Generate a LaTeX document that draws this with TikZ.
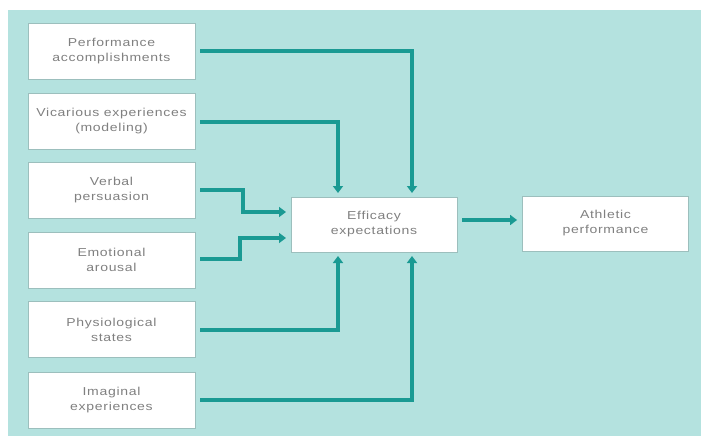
\documentclass[tikz,border=0pt]{standalone}
\usepackage{fontspec}
\setmainfont{Liberation Sans}[FakeStretch=1.22, LetterSpace=6]
\usetikzlibrary{arrows.meta}
\definecolor{bgteal}{HTML}{B4E2DF}
\definecolor{lineteal}{HTML}{1A9A93}
\definecolor{boxedge}{HTML}{9CBFBD}
\definecolor{txtgrey}{HTML}{808080}
\tikzset{
  bx/.style={draw=boxedge, line width=0.8pt, fill=white, minimum width=167pt, minimum height=56pt,
    align=center, font=\fontsize{11.5}{15}\selectfont, text=txtgrey, inner sep=0pt},
  cbx/.style={bx, minimum width=166pt, minimum height=55pt},
  conn/.style={draw=lineteal, line width=3.4pt, -{Triangle[length=7pt,width=10pt]}},
}
\begin{document}
\begin{tikzpicture}[x=1pt,y=-1pt]
\useasboundingbox (0,0) rectangle (701,441);
\fill[white] (0,0) rectangle (701,441);
\fill[bgteal] (8,10) rectangle (701,436);
\node[bx] (pa) at (111.5,51) {Performance\\accomplishments};
\node[bx] (ve) at (111.5,121) {Vicarious experiences\\(modeling)};
\node[bx] (vp) at (111.5,190) {Verbal\\persuasion};
\node[bx] (ea) at (111.5,260) {Emotional\\arousal};
\node[bx] (ps) at (111.5,329.5) {Physiological\\states};
\node[bx] (ie) at (111.5,400) {Imaginal\\experiences};
\node[cbx] (ee) at (374,224.5) {Efficacy\\expectations};
\node[cbx] (ap) at (605.5,223.5) {Athletic\\performance};
\coordinate (eeT1) at (338,197);
\coordinate (eeT2) at (412,197);
\coordinate (eeB1) at (338,252);
\coordinate (eeB2) at (412,252);
\coordinate (eeL1) at (291,212);
\coordinate (eeL2) at (291,238);
\draw[conn, shorten >=4pt] ([xshift=5pt]pa.east |- 0,51) -| (eeT2);
\draw[conn, shorten >=4pt] ([xshift=5pt]ve.east |- 0,122) -| (eeT1);
\draw[conn, shorten >=5pt] ([xshift=5pt]vp.east |- 0,190) -- (243,190) |- (eeL1);
\draw[conn, shorten >=5pt] ([xshift=5pt]ea.east |- 0,259) -- (240,259) |- (eeL2);
\draw[conn, shorten >=4pt] ([xshift=5pt]ps.east |- 0,330) -| (eeB1);
\draw[conn, shorten >=4pt] ([xshift=5pt]ie.east |- 0,400) -| (eeB2);
\draw[conn, shorten <=5pt, shorten >=5pt] (ee.east |- 0,220) -- (ap.west |- 0,220);
\end{tikzpicture}
\end{document}
